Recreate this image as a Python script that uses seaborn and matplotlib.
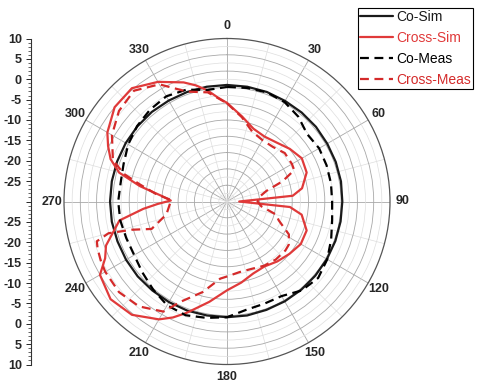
import numpy as np
import matplotlib
matplotlib.use("Agg")
import matplotlib.pyplot as plt
import seaborn as sns
from matplotlib.ticker import FixedLocator, MultipleLocator

# angles in degrees (clockwise from top), gain in dB
co_sim_ang = list(range(0, 361, 10))
co_sim_db = [-1.4, -1.4, -1.4, -1.5, -1.5, -1.5, -1.6, -1.6, -1.6, -1.7,
             -1.7, -1.7, -1.7, -1.7, -1.7, -1.7, -1.7, -1.6, -1.6, -1.6,
             -1.5, -1.5, -1.5, -1.4, -1.4, -1.4, -1.3, -1.3, -1.3, -1.3,
             -1.3, -1.3, -1.3, -1.4, -1.4, -1.4, -1.4]

co_meas_ang = list(range(0, 361, 10))
co_meas_db = [-1.9, -1.7, -1.5, -1.8, -2.8, -4.3, -3.9, -4.0, -4.1, -4.2,
              -3.8, -2.8, -1.6, -0.8, -1.5, -3.2, -3.3, -3.0, -1.6, -1.0,
              -0.3, -0.6, -1.8, -2.9, -3.7, -3.7, -3.4, -3.3, -3.5, -3.0,
              -2.0, -1.2, -0.6, -0.2, -0.8, -2.2, -1.9]

cross_sim_ang = [0, 10, 20, 30, 40, 50, 60, 70, 80, 85, 90, 95, 100, 110,
                 120, 130, 140, 150, 160, 170, 180, 190, 195, 200, 205, 210,
                 220, 230, 240, 245, 250, 260, 265, 268, 271, 275, 280, 285,
                 290, 295, 300, 310, 320, 330, 340, 345, 350, 355, 360]
cross_sim_db = [-5.8, -8.8, -11.0, -11.6, -11.1, -9.9, -8.8, -9.2, -11.3,
                -13.8, -27.0, -14.5, -11.4, -9.2, -9.1, -10.0, -10.8, -11.6,
                -11.2, -9.8, -8.2, -5.0, -3.2, -0.9, 1.4, 3.4, 6.3, 7.3, 6.0,
                3.0, 1.6, -3.2, -9.4, -13.0, -16.2, -13.8, -8.3, -2.6, 0.4,
                2.2, 3.9, 6.0, 6.3, 3.9, 1.1, -0.5, -2.3, -4.4, -5.8]

cross_meas_ang = [0, 10, 20, 30, 40, 50, 60, 65, 70, 75, 82, 90, 98, 105,
                  110, 118, 125, 130, 140, 150, 160, 170, 180, 185, 195, 205,
                  210, 220, 230, 240, 245, 250, 253, 255, 253.5, 250, 258,
                  271.5, 276, 281, 285, 290, 300, 310, 320, 330, 340, 350, 360]
cross_meas_db = [-5.9, -9.0, -11.8, -12.6, -12.5, -11.5, -11.6, -11.8, -15.5,
                 -20.0, -22.0, -22.5, -21.5, -17.5, -16.5, -12.8, -11.5, -11.3,
                 -11.4, -11.8, -12.4, -12.4, -11.6, -11.0, -7.0, -2.8, 1.2,
                 3.6, 4.6, 4.5, 4.2, 3.8, 3.4, 0.1, -5.6, -10.3, -14.8, -16.3,
                 -12.5, -8.3, -3.8, -0.2, 2.6, 4.6, 5.5, 3.2, -1.3, -2.8, -5.9]

theta_labels = [str(a) for a in range(0, 360, 30)]

sns.set_style("white")
plt.rcParams["font.family"] = ["Liberation Sans", "DejaVu Sans"]

fig = plt.figure(figsize=(4.82, 3.90), dpi=100)
ax = fig.add_axes([64 / 482, 25.5 / 390, 326 / 482, 326 / 390], projection="polar")
ax.set_theta_zero_location("N")
ax.set_theta_direction(-1)
ax.set_ylim(-30, 10)

series = [
    (co_sim_ang, co_sim_db, "Co-Sim", "#1a1a1a", "-"),
    (cross_sim_ang, cross_sim_db, "Cross-Sim", "#e03a3a", "-"),
    (co_meas_ang, co_meas_db, "Co-Meas", "#000000", (0, (4, 2.5))),
    (cross_meas_ang, cross_meas_db, "Cross-Meas", "#d42a2a", (0, (4, 2.5))),
]
for ang, db, name, col, ls in series:
    sns.lineplot(x=np.deg2rad(ang), y=db, ax=ax, sort=False, estimator=None,
                 color=col, linestyle=ls, lw=1.6, label=name, zorder=3)

# grid: spokes every 30 (minor 15), rings every 4 dB (minor 2)
ax.set_xticks(np.deg2rad(np.arange(0, 360, 30)))
ax.set_xticklabels(theta_labels, fontsize=9, fontweight="bold")
ax.xaxis.set_minor_locator(FixedLocator(np.deg2rad(np.arange(15, 360, 30))))
ax.set_yticks([-26, -22, -18, -14, -10, -6, -2, 2, 6])
ax.set_yticklabels([])
ax.yaxis.set_minor_locator(FixedLocator([-28, -24, -20, -16, -12, -8, -4, 0, 4, 8]))
ax.grid(which="major", color="#a8a8a8", lw=0.6)
ax.grid(which="minor", color="#dedede", lw=0.5)
ax.tick_params(which="both", length=0)
ax.tick_params(axis="x", pad=2)
ax.spines["polar"].set_color("#555555")
ax.spines["polar"].set_linewidth(0.9)
ax.set_xlabel("")
ax.set_ylabel("")

handles, labels = ax.get_legend_handles_labels()
ax.get_legend().remove()
fig.legend(handles, labels, loc="upper right", bbox_to_anchor=(473 / 482, 1 - 8 / 390),
           frameon=True, fancybox=False, edgecolor="black", framealpha=1,
           fontsize=10, handlelength=2.4, handletextpad=0.2, labelspacing=0.5,
           borderpad=0.15, borderaxespad=0, labelcolor="linecolor")
fig.legends[0].get_frame().set_linewidth(0.8)

# mirrored radial scale on the left
lax = fig.add_axes([31 / 482, 25.5 / 390, 0.0001, 326 / 390])
lax.set_ylim(-40, 40)
for s in ["top", "right", "bottom"]:
    lax.spines[s].set_visible(False)
lax.spines["left"].set_color("#333333")
lax.spines["left"].set_linewidth(0.8)
lax.set_xticks([])
ytk = list(range(-40, 41, 5))
lax.set_yticks(ytk)
lax.set_yticklabels(["" if y == 0 else str(abs(y) - 30) for y in ytk],
                    fontsize=9, fontweight="bold")
lax.yaxis.set_minor_locator(MultipleLocator(1))
lax.tick_params(axis="y", which="major", direction="out", length=3.5, width=0.7, pad=3, left=True)
lax.tick_params(axis="y", which="minor", direction="out", length=2, width=0.5, left=True)

fig.savefig("out.png", dpi=100)
